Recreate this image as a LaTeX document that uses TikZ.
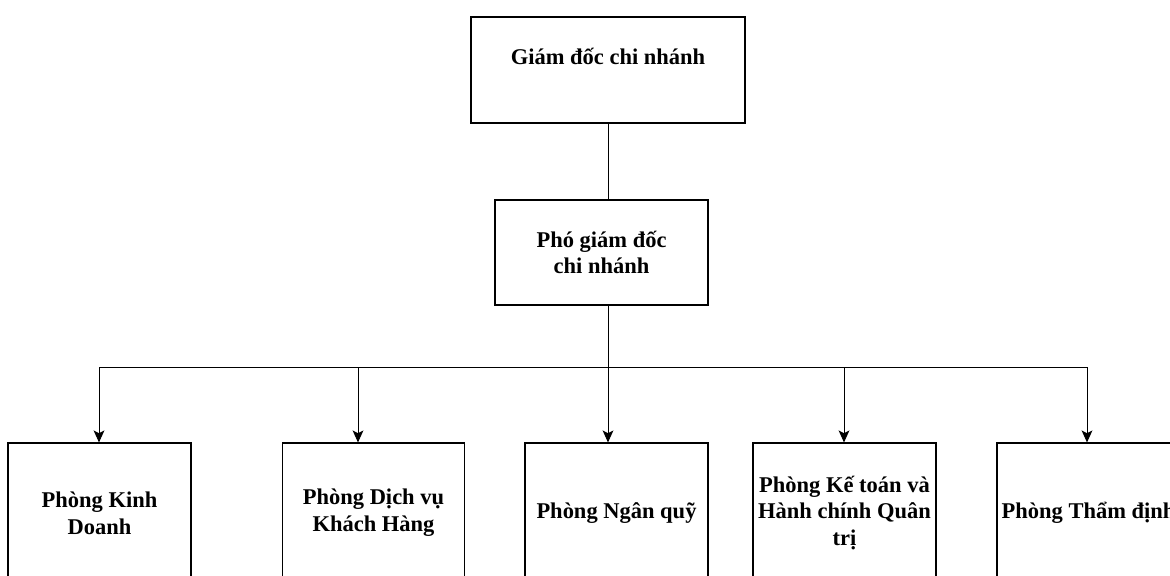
\documentclass[tikz,border=0pt]{standalone}
\usepackage{fontspec}
\setmainfont{Liberation Serif}
\usepackage{tikz}
\usetikzlibrary{arrows.meta, positioning}
\tikzstyle{unit} = [rectangle, draw=black, line width=0.8pt, align=center, inner sep=0,
                    font=\fontsize{16}{19}\selectfont\bfseries]
\tikzstyle{dept} = [unit, minimum width=4.575cm, minimum height=3.5cm]
\tikzstyle{link} = [draw=black, line width=0.7pt]
\tikzstyle{branch} = [link, -{Stealth[length=0.3cm, width=0.27cm, inset=0.07cm]}]

\begin{document}
\begin{tikzpicture}
					\path[use as bounding box, clip] (0, 0) rectangle (29.25, -14.375);

					\node (GD) [unit, minimum width=6.85cm, minimum height=2.65cm] at (15.2, -1.75) {Giám đốc chi nhánh\\ ~};
					\node (PGD) [unit, minimum width=5.325cm, minimum height=2.625cm] at (15.0375, -6.3125) {Phó giám đốc\\chi nhánh};
					\draw[link] (GD.south) -- (GD.south |- PGD.north);

					% departments
					\node (PKD) [dept] at (2.4875, -12.825) {Phòng Kinh\\Doanh};
					\node (PDV) [dept, minimum width=4.54cm] at (9.3375, -12.825) {Phòng Dịch vụ\\Khách Hàng};
					\node (PNQ) [dept] at (15.4125, -12.825) {Phòng Ngân quỹ};
					\node (PKT) [dept] at (21.1125, -12.825) {Phòng Kế toán và\\Hành chính Quân\\trị};
					\node (PTD) [dept] at (27.2125, -12.825) {Phòng Thẩm định};

					% bar
					\coordinate (Bar) at (15.2, -9.175);
					\draw[link] (GD.south |- PGD.south) -- (Bar);
					\draw[branch] (Bar) -| ([xshift=-0.0125cm]PKD.north);
					\draw[branch] (Bar) -| ([xshift=-0.3875cm]PDV.north);
					\draw[branch] (Bar) -| ([xshift=-0.2125cm]PNQ.north);
					\draw[branch] (Bar) -| ([xshift=-0.0125cm]PKT.north);
					\draw[branch] (Bar) -| ([xshift=-0.0375cm]PTD.north);
				\end{tikzpicture}
\end{document}
